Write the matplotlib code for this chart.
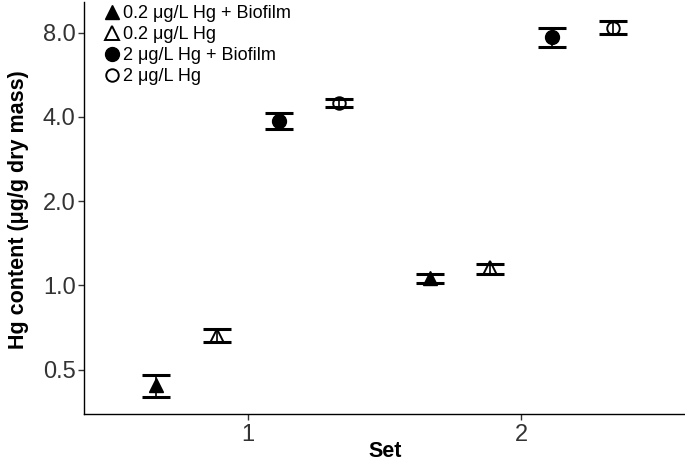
import matplotlib
matplotlib.use("Agg")
import matplotlib.pyplot as plt
import numpy as np

plt.rcParams['font.family'] = ['Liberation Sans', 'DejaVu Sans']

sets = [1, 2]
groups = ["0.2 μg/L Hg + Biofilm", "0.2 μg/L Hg", "2 μg/L Hg + Biofilm", "2 μg/L Hg"]
offsets = [-0.335, -0.112, 0.112, 0.335]
markers = ["^", "^", "o", "o"]
filled = [True, False, True, False]

means = {
    groups[0]: [0.44, 1.06],
    groups[1]: [0.66, 1.15],
    groups[2]: [3.87, 7.71],
    groups[3]: [4.49, 8.30],
}
lows = {
    groups[0]: [0.40, 1.017],
    groups[1]: [0.627, 1.10],
    groups[2]: [3.63, 7.10],
    groups[3]: [4.34, 7.90],
}
highs = {
    groups[0]: [0.48, 1.10],
    groups[1]: [0.70, 1.19],
    groups[2]: [4.13, 8.30],
    groups[3]: [4.64, 8.79],
}
yticks = [0.5, 1.0, 2.0, 4.0, 8.0]
ytick_labels = ["0.5", "1.0", "2.0", "4.0", "8.0"]

fig = plt.figure(figsize=(6.85, 4.62), dpi=100)
ax = fig.add_axes([84/685, 48/462, 1 - 84/685, 1 - 48/462 - 0.004])

handles = []
for g, off, m, f in zip(groups, offsets, markers, filled):
    x = np.array(sets) + off
    y = np.array(means[g])
    lo = y - np.array(lows[g])
    hi = np.array(highs[g]) - y
    ax.errorbar(x, y, yerr=[lo, hi], fmt='none', ecolor='black', elinewidth=1.2,
                capsize=10, capthick=2.2, zorder=2)
    if f:
        h = ax.plot(x, y, linestyle='none', marker=m, markersize=10 if m == 'o' else 10.5,
                    color='black', markeredgecolor='black', zorder=3, label=g)[0]
    else:
        h = ax.plot(x, y, linestyle='none', marker=m, markersize=9 if m == 'o' else 10,
                    markerfacecolor='none', markeredgecolor='black', markeredgewidth=1.4,
                    zorder=3, label=g)[0]
    handles.append(h)

ax.set_yscale('log', base=2)
ax.set_ylim(0.347, 10.3)
ax.set_xlim(0.4, 2.6)
ax.set_yticks(yticks)
ax.set_yticklabels(ytick_labels)
ax.yaxis.set_minor_locator(matplotlib.ticker.NullLocator())
ax.set_xticks(sets)
ax.set_xticklabels([str(s) for s in sets])

for s in ['top', 'right']:
    ax.spines[s].set_visible(False)
for s in ['left', 'bottom']:
    ax.spines[s].set_linewidth(1.0)
    ax.spines[s].set_color('black')

ax.tick_params(axis='both', labelsize=17, length=4, width=1.0, color='#333333',
               labelcolor='#333333')
ax.tick_params(axis='y', pad=2)
ax.tick_params(axis='x', pad=3)

ax.set_xlabel("Set", fontsize=15.5, fontweight='bold')
ax.xaxis.set_label_coords(0.501, -0.066)
ax.set_ylabel("Hg content (μg/g dry mass)", fontsize=15.5, fontweight='bold')
ax.yaxis.set_label_coords(-0.091, 0.495)

leg = ax.legend(handles=handles, loc='upper left', bbox_to_anchor=(0.035, 0.9925),
                frameon=False, fontsize=13, handlelength=0.8, handletextpad=0.2,
                labelspacing=0.23, borderaxespad=0, borderpad=0)

fig.savefig("out.png", dpi=100)
